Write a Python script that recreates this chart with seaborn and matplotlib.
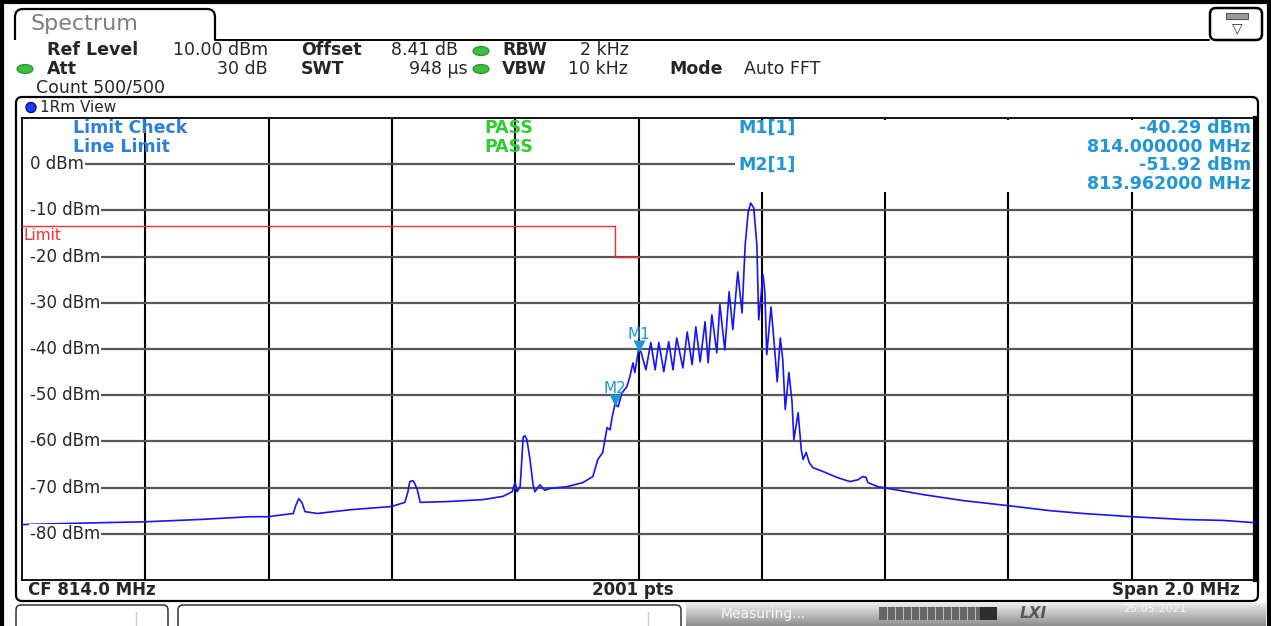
import numpy as np
import pandas as pd
import matplotlib
matplotlib.use("Agg")
import matplotlib.pyplot as plt
import matplotlib.patches as mpatches
import matplotlib.transforms as mtransforms
import seaborn as sns

# ----------------------------------------------------
# Data
# ----------------------------------------------------
# trace 1 (Rm), frequency in MHz, level in dBm
TRACE_FREQ = [
    813.000, 813.062, 813.127, 813.200, 813.289, 813.370, 813.399, 813.440,
    813.444, 813.449, 813.454, 813.459, 813.479, 813.532, 813.599, 813.621,
    813.626, 813.629, 813.634, 813.637, 813.641, 813.646, 813.694, 813.748,
    813.780, 813.795, 813.800, 813.803, 813.808, 813.813, 813.816, 813.819,
    813.824, 813.829, 813.832, 813.840, 813.848, 813.856, 813.884, 813.910,
    813.926, 813.934, 813.942, 813.949, 813.954, 813.957, 813.962, 813.967,
    813.973, 813.981, 813.986, 813.991, 813.994, 814.000, 814.004, 814.012,
    814.020, 814.027, 814.033, 814.041, 814.049, 814.056, 814.062, 814.072,
    814.079, 814.087, 814.093, 814.100, 814.108, 814.113, 814.119, 814.127,
    814.132, 814.140, 814.147, 814.153, 814.161, 814.168, 814.173, 814.178,
    814.182, 814.187, 814.192, 814.195, 814.202, 814.205, 814.208, 814.215,
    814.220, 814.225, 814.230, 814.234, 814.238, 814.244, 814.249, 814.252,
    814.259, 814.264, 814.267, 814.272, 814.277, 814.283, 814.299, 814.322,
    814.343, 814.356, 814.364, 814.369, 814.372, 814.388, 814.397, 814.461,
    814.526, 814.599, 814.668, 814.721, 814.800, 814.883, 814.948, 815.000,
]
TRACE_LEVEL = [
    -78.0, -77.8, -77.6, -77.4, -76.9, -76.3, -76.3, -75.6,
    -73.9, -72.4, -73.2, -75.2, -75.6, -74.8, -74.1, -73.2,
    -70.9, -68.7, -68.5, -69.1, -70.4, -73.2, -73.0, -72.6,
    -71.9, -70.9, -68.9, -70.9, -69.8, -59.0, -58.8, -59.6,
    -63.9, -69.4, -70.9, -69.4, -70.6, -70.2, -69.8, -68.9,
    -67.6, -63.9, -62.4, -57.0, -57.5, -54.9, -51.9, -52.5,
    -49.5, -48.2, -46.0, -43.0, -45.1, -40.3, -40.6, -44.5,
    -38.6, -44.5, -38.6, -44.9, -38.4, -44.5, -37.6, -44.1,
    -36.3, -43.4, -35.2, -42.8, -34.1, -43.0, -32.6, -40.8,
    -30.4, -40.2, -27.6, -35.8, -23.3, -32.2, -17.5, -10.3,
    -8.4, -9.5, -17.5, -33.7, -23.9, -27.8, -41.2, -30.9,
    -38.6, -47.1, -37.6, -42.3, -53.1, -45.1, -51.4, -59.6,
    -53.8, -61.8, -63.9, -62.4, -64.6, -65.7, -66.5, -67.8,
    -68.7, -68.3, -67.6, -67.8, -68.9, -69.8, -70.0, -71.5,
    -72.8, -73.9, -75.0, -75.6, -76.3, -76.9, -77.1, -77.6,
]

LIMIT_FREQ = [813.0, 813.962, 813.962, 814.0]
LIMIT_LEVEL = [-13.3, -13.3, -20.0, -20.0]

MARKER_NAMES = ["M1", "M2"]
MARKER_FREQ = [814.000, 813.962]
MARKER_LEVEL = [-40.29, -51.92]

X_GRID = [813.2, 813.4, 813.6, 813.8, 814.0, 814.2, 814.4, 814.6, 814.8]
Y_GRID = [0, -10, -20, -30, -40, -50, -60, -70, -80]

# ----------------------------------------------------
# Style
# ----------------------------------------------------
sns.set_theme(style="white")
plt.rcParams['font.family'] = ['DejaVu Sans']

BLUE_TXT = "#1f96d8"
LIMIT_BLUE = "#2a7fe0"
GREEN = "#2fcc2f"
TRACE = "#1414ff"
W, H = 1271, 626
FS = 12.5  # screen font looks horizontally stretched, so a bit large

fig = plt.figure(figsize=(W / 100, H / 100), dpi=100)
fig.patch.set_facecolor("white")

# main diagram (pixel box 22..1255 x 118..580)
ax = fig.add_axes([22 / W, 1 - 580 / H, 1233 / W, 462 / H], zorder=1)
df = pd.DataFrame({"freq": TRACE_FREQ, "level": TRACE_LEVEL})
sns.lineplot(data=df, x="freq", y="level", ax=ax, color=TRACE, lw=1.2,
             estimator=None, sort=False, zorder=5)
ax.plot(LIMIT_FREQ, LIMIT_LEVEL, color="#ff2a2a", lw=1.0, zorder=4)
ax.annotate("Limit", (LIMIT_FREQ[0], LIMIT_LEVEL[0]), xytext=(1, -1.5),
            textcoords="offset points", color="#ff2a2a", fontsize=11,
            va="top", ha="left", zorder=6)

ax.set_xlim(813.0, 815.0)
ax.set_ylim(-90, 10)
ax.set_xticks(X_GRID)
ax.set_yticks(Y_GRID)
ax.tick_params(length=0, labelbottom=False, labelleft=False)
ax.set_xlabel("")
ax.set_ylabel("")
ax.xaxis.grid(True, color="black", lw=1.5)
ax.yaxis.grid(True, color="#575757", lw=1.6)
ax.set_axisbelow(True)
for side in ["left", "top", "bottom"]:
    ax.spines[side].set_color("black")
    ax.spines[side].set_linewidth(1.3)
ax.spines["right"].set_color("black")
ax.spines["right"].set_linewidth(3)

# markers
tri = mtransforms.offset_copy(ax.transData, fig=fig, y=3.2, units="points")
ax.scatter(MARKER_FREQ, MARKER_LEVEL, marker="v", s=75, color=BLUE_TXT,
           transform=tri, zorder=7, linewidths=0)
for name, f, lv in zip(MARKER_NAMES, MARKER_FREQ, MARKER_LEVEL):
    ax.annotate(name, (f, lv), xytext=(0, 11.5), textcoords="offset points",
                ha="center", va="center", color=BLUE_TXT, fontsize=11, zorder=7)

# ----------------------------------------------------
# Overlay for screen furniture (pixel coordinates)
# ----------------------------------------------------
top = fig.add_axes([0, 0, 1, 1], zorder=2)
top.set_xlim(0, W)
top.set_ylim(H, 0)
top.axis("off")
top.patch.set_alpha(0)

# level labels with white boxes over the grid
for lv in Y_GRID:
    y = 118 + (10 - lv) * 4.62
    top.add_patch(mpatches.Rectangle((22.7, y - 3.5), 10, 7, fc="white", ec="none"))
    top.text(30, y, f"{lv} dBm", fontsize=12, va="center", ha="left",
             bbox=dict(fc="white", ec="none", pad=0.6))

# marker table area hides the grid
top.add_patch(mpatches.Rectangle((735, 119.5), 518, 72, fc="white", ec="none"))

top.text(73, 128, "Limit Check", color=LIMIT_BLUE, fontsize=FS, weight="bold", va="center")
top.text(73, 147, "Line Limit", color=LIMIT_BLUE, fontsize=FS, weight="bold", va="center")
top.text(484, 128, "PASS", color=GREEN, fontsize=FS, weight="bold", va="center")
top.text(484, 147, "PASS", color=GREEN, fontsize=FS, weight="bold", va="center")
top.text(738, 128, "M1[1]", color=BLUE_TXT, fontsize=FS, weight="bold", va="center")
top.text(738, 165, "M2[1]", color=BLUE_TXT, fontsize=FS, weight="bold", va="center")
top.text(1251, 128, "-40.29 dBm", color=BLUE_TXT, fontsize=FS, weight="bold", va="center", ha="right")
top.text(1251, 147, "814.000000 MHz", color=BLUE_TXT, fontsize=FS, weight="bold", va="center", ha="right")
top.text(1251, 165, "-51.92 dBm", color=BLUE_TXT, fontsize=FS, weight="bold", va="center", ha="right")
top.text(1251, 184, "813.962000 MHz", color=BLUE_TXT, fontsize=FS, weight="bold", va="center", ha="right")

# outer border
top.plot([1.5, 1.5], [0, H], color="black", lw=3)
top.plot([1269, 1269], [0, H], color="black", lw=3)
top.plot([0, W], [1.5, 1.5], color="black", lw=3)

# "Spectrum" tab
top.add_patch(mpatches.FancyBboxPatch((15, 9), 200, 40, boxstyle="round,pad=0,rounding_size=8",
                                      fc="white", ec="black", lw=1.6))
top.add_patch(mpatches.Rectangle((12, 40), 206, 14, fc="white", ec="none"))
top.plot([215, 1209], [39.5, 39.5], color="black", lw=1.4)
top.text(30, 24, "Spectrum", color="#7d7d7d", fontsize=16, va="center")

# menu icon box
top.add_patch(mpatches.FancyBboxPatch((1210, 8), 52, 32, boxstyle="round,pad=0,rounding_size=6",
                                      fc="white", ec="black", lw=1.8))
top.add_patch(mpatches.Rectangle((1226, 13), 22, 6, fc="#9a9a9a", ec="#555555", lw=0.8))
top.text(1237, 28, "\u25BD", fontsize=10, ha="center", va="center", color="#333333")

# instrument settings
def field(x, y, s, bold=False, ha="left"):
    top.text(x, y, s, fontsize=FS, weight="bold" if bold else "normal", ha=ha, va="center")

def led(x, y):
    top.add_patch(mpatches.Ellipse((x, y), 16, 9, fc="#3cbf3c", ec="#2a8a2a", lw=0.8))

field(47, 50, "Ref Level", True)
field(268, 50, "10.00 dBm", ha="right")
field(301, 50, "Offset", True)
field(391, 50, "8.41 dB")
led(481, 51)
field(502, 50, "RBW", True)
field(580, 50, "2 kHz")
led(25, 69)
field(47, 69, "Att", True)
field(268, 69, "30 dB", ha="right")
field(301, 69, "SWT", True)
field(468, 69, "948 \u00b5s", ha="right")
led(481, 69)
field(502, 69, "VBW", True)
field(568, 69, "10 kHz")
field(669, 69, "Mode", True)
field(744, 69, "Auto FFT")
field(36, 87, "Count 500/500")

# window frame
top.add_patch(mpatches.FancyBboxPatch((16, 97), 1242, 504, boxstyle="round,pad=0,rounding_size=6",
                                      fc="none", ec="black", lw=1.6))
top.add_patch(mpatches.Circle((31, 107.5), 5, fc="#1a3cff", ec="#00106a", lw=1))
top.text(40, 107.5, "1Rm View", fontsize=11, va="center")

# footer
top.text(28, 590, "CF 814.0 MHz", fontsize=12, weight="bold", va="center")
top.text(633, 590, "2001 pts", fontsize=12, weight="bold", va="center", ha="center")
top.text(1240, 590, "Span 2.0 MHz", fontsize=12, weight="bold", va="center", ha="right")

# status bar
top.add_patch(mpatches.FancyBboxPatch((16, 605), 152, 30, boxstyle="round,pad=0,rounding_size=5",
                                      fc="white", ec="#333333", lw=1.1))
top.plot([136, 136], [612, 626], color="#cccccc", lw=1)
top.add_patch(mpatches.FancyBboxPatch((178, 605), 503, 30, boxstyle="round,pad=0,rounding_size=5",
                                      fc="white", ec="#333333", lw=1.1))
top.plot([648, 648], [612, 626], color="#cccccc", lw=1)
grad = np.linspace(0, 1, 30).reshape(-1, 1)
top.imshow(grad, extent=(686, 1266, 626, 603), aspect="auto",
           cmap=matplotlib.colors.LinearSegmentedColormap.from_list("sb", ["#ececec", "#8e8e8e"]),
           zorder=0)
top.text(721, 614, "Measuring...", fontsize=10, color="#f6f6f6", va="center")
top.add_patch(mpatches.Rectangle((879, 607), 118, 13, fc="#666666", ec="none"))
for xs in np.arange(887, 980, 8):
    top.plot([xs, xs], [607, 620], color="#bbbbbb", lw=0.8)
top.add_patch(mpatches.Rectangle((980, 607), 17, 13, fc="#2e2e2e", ec="none"))
top.text(1033, 613, "LXI", fontsize=11, color="#555555", weight="bold", style="italic",
         va="center", ha="center")
top.text(1155, 609, "25.05.2021", fontsize=8, color="#f6f6f6", va="center", ha="center")

top.set_xlim(0, W)
top.set_ylim(H, 0)

fig.savefig("out.png", dpi=100)
